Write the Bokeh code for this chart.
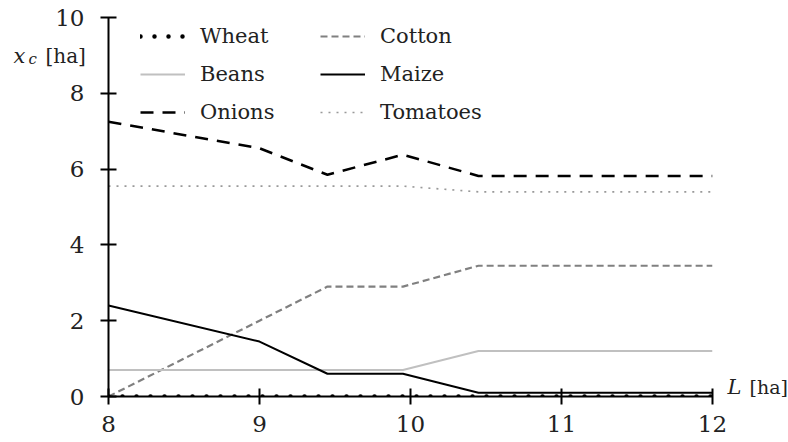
from bokeh.plotting import figure
from bokeh.models import Range1d, Legend, LegendItem, Label, FixedTicker
from bokeh.embed import file_html
from bokeh.resources import INLINE

# Data
L = [8, 9, 9.45, 9.95, 10.45, 12]
wheat = [0, 0, 0, 0, 0, 0]
beans = [0.7, 0.7, 0.7, 0.7, 1.2, 1.2]
onions = [7.25, 6.55, 5.85, 6.38, 5.82, 5.82]
cotton = [0.0, 2.0, 2.9, 2.9, 3.45, 3.45]
maize = [2.4, 1.45, 0.6, 0.6, 0.1, 0.1]
tomatoes = [5.55, 5.55, 5.55, 5.55, 5.4, 5.4]
x_ticks = [8, 9, 10, 11, 12]
y_ticks = [0, 2, 4, 6, 8, 10]

FONT = "DejaVu Serif"
TXT = "#222222"

p = figure(width=788, height=442, output_backend="svg", toolbar_location=None,
           x_range=Range1d(8, 12), y_range=Range1d(0, 10),
           min_border_left=108, min_border_right=76, min_border_top=17, min_border_bottom=46)
p.grid.visible = False
p.outline_line_color = None
p.background_fill_color = None
p.border_fill_color = "white"

for ax in (p.xaxis[0], p.yaxis[0]):
    ax.axis_line_width = 2
    ax.axis_line_color = "black"
    ax.major_tick_line_width = 2
    ax.major_tick_line_color = "black"
    ax.major_tick_in = 8
    ax.major_tick_out = 8
    ax.minor_tick_line_color = None
    ax.major_label_text_font = FONT
    ax.major_label_text_font_size = "23px"
    ax.major_label_text_color = TXT
p.xaxis.ticker = FixedTicker(ticks=x_ticks)
p.yaxis.ticker = FixedTicker(ticks=y_ticks)
p.xaxis.major_label_standoff = 11
p.yaxis.major_label_standoff = 16

r_tom = p.line(L, tomatoes, line_color="#999999", line_width=1.7, line_dash="2 6")
r_cot = p.line(L, cotton, line_color="#808080", line_width=2.2, line_dash="7 4")
r_bea = p.line(L, beans, line_color="#c0c0c0", line_width=2)
r_mai = p.line(L, maize, line_color="black", line_width=2)
r_oni = p.line(L, onions, line_color="black", line_width=2.5, line_dash="13 9")
r_whe = p.line(L, wheat, line_color="black", line_width=4.5, line_dash="0 14", line_cap="round")

def mk_legend(items, loc):
    lg = Legend(items=items, location=loc, orientation="vertical",
                label_text_font=FONT, label_text_font_size="21px", label_text_color=TXT,
                glyph_width=45, glyph_height=24, label_height=24, label_standoff=15,
                spacing=14, padding=0, margin=0,
                border_line_color=None, background_fill_alpha=0)
    p.add_layout(lg, "center")

mk_legend([LegendItem(label="Wheat", renderers=[r_whe]),
           LegendItem(label="Beans", renderers=[r_bea]),
           LegendItem(label="Onions", renderers=[r_oni])], (32, 272))
mk_legend([LegendItem(label="Cotton", renderers=[r_cot]),
           LegendItem(label="Maize", renderers=[r_mai]),
           LegendItem(label="Tomatoes", renderers=[r_tom])], (212, 272))

def lab(side, x, y, text, dx, size, style="normal"):
    p.add_layout(Label(x=x, y=y, text=text, x_offset=dx, text_font=FONT,
                       text_font_size=size, text_font_style=style, text_color=TXT,
                       text_baseline="alphabetic", text_align="left"), side)

# axis titles (placed in side panels so that they are not clipped by the frame)
lab("right", 8, 8.98, "x", -95, "21px", "italic")
lab("left", 8, 8.91, "c", -80, "15px", "italic")
lab("left", 8, 8.98, "[ha]", -63, "20px")
lab("right", 12, 0.25, "L", 15, "21px", "italic")
lab("right", 12, 0.25, "[ha]", 37, "19px")

open("out.html", "w").write(file_html(p, INLINE))
